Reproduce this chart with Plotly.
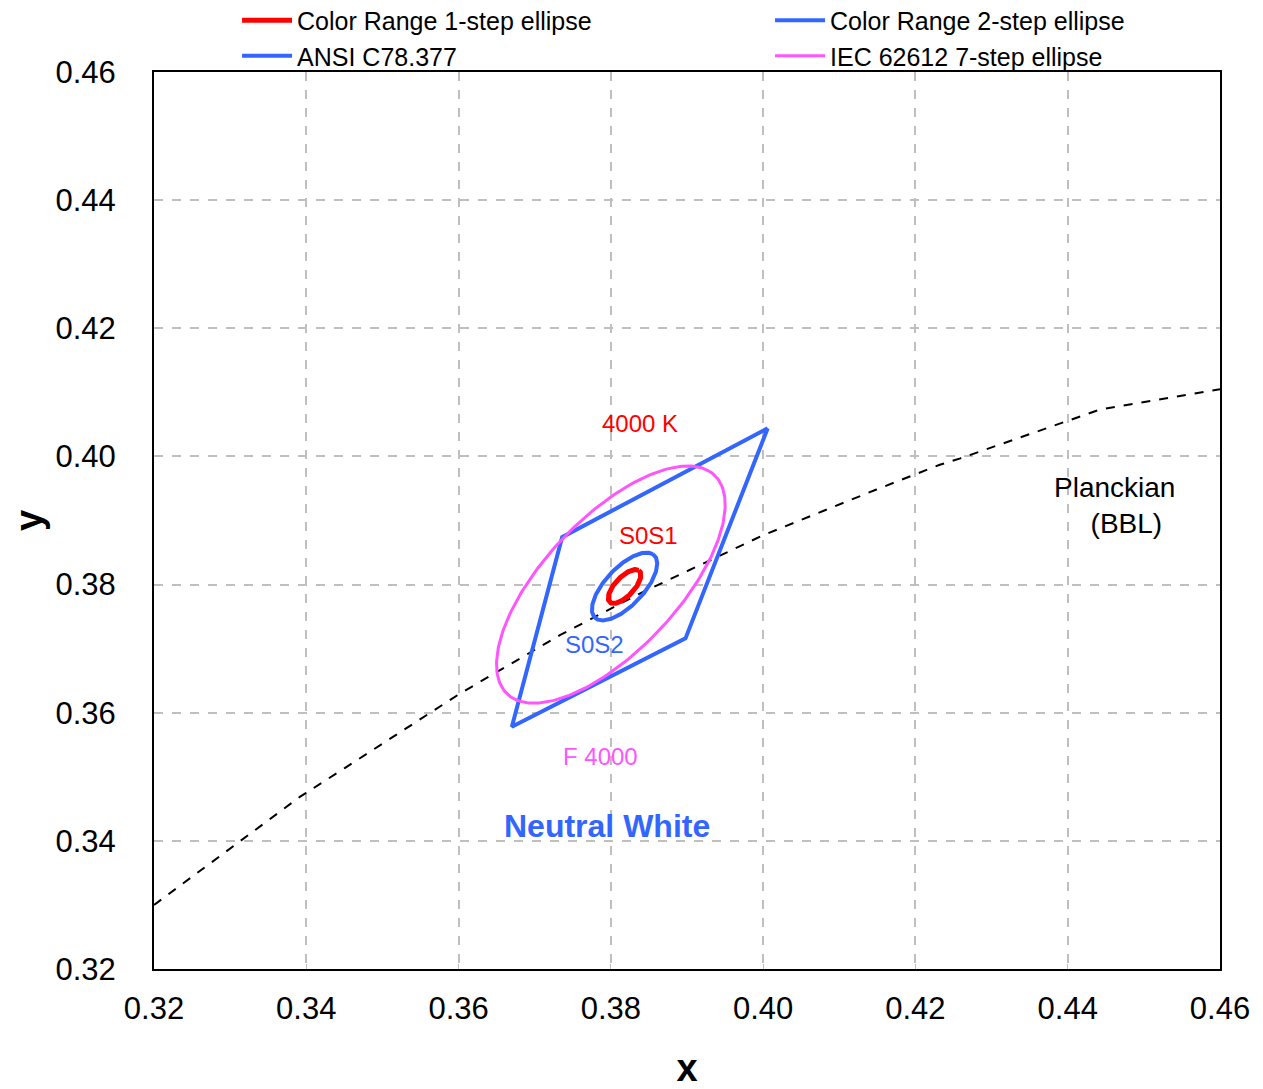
import numpy as np
import plotly.graph_objects as go

# ---------------- data ----------------
# Planckian locus (BBL) points
bbl_x = [0.3200, 0.3392, 0.3451, 0.3602, 0.3733, 0.3800, 0.3838, 0.4000, 0.4148, 0.4232, 0.4259, 0.4442, 0.4600]
bbl_y = [0.3300, 0.3469, 0.3514, 0.3630, 0.3721, 0.3763, 0.3786, 0.3877, 0.3948, 0.3987, 0.3997, 0.4073, 0.4105]

# ANSI C78.377 4000 K quadrangle
ansi_x = [0.4006, 0.3898, 0.3670, 0.3736, 0.4006]
ansi_y = [0.4044, 0.3716, 0.3578, 0.3874, 0.4044]

# ellipse parameters: centre, semi-axes per step, angle (deg), steps
s0_center = (0.3818, 0.3797)
f4000_center = (0.3800, 0.3800)
ellipse_a = 0.00313
ellipse_b = 0.00134
ellipse_theta = 53.7
steps_1 = 1
steps_2 = 2
steps_7 = 7

legend_names = ["Color Range 1-step ellipse", "Color Range 2-step ellipse",
                "ANSI C78.377", "IEC 62612 7-step ellipse"]

x_ticks = [0.32, 0.34, 0.36, 0.38, 0.40, 0.42, 0.44, 0.46]
y_ticks = [0.32, 0.34, 0.36, 0.38, 0.40, 0.42, 0.44, 0.46]

RED = "#FF0000"
BLUE = "#3366FF"
MAGENTA = "#FF55FF"


def ellipse(center, a, b, theta_deg, n=240):
    t = np.linspace(0, 2 * np.pi, n)
    th = np.deg2rad(theta_deg)
    ex = a * np.cos(t)
    ey = b * np.sin(t)
    x = center[0] + ex * np.cos(th) - ey * np.sin(th)
    y = center[1] + ex * np.sin(th) + ey * np.cos(th)
    return x, y


e1x, e1y = ellipse(s0_center, ellipse_a * steps_1, ellipse_b * steps_1, ellipse_theta)
e2x, e2y = ellipse(s0_center, ellipse_a * steps_2, ellipse_b * steps_2, ellipse_theta)
e7x, e7y = ellipse(f4000_center, ellipse_a * steps_7, ellipse_b * steps_7, ellipse_theta)

fig = go.Figure()

fig.add_trace(go.Scatter(x=bbl_x, y=bbl_y, mode="lines", showlegend=False,
                         line=dict(color="black", width=2, dash="dash")))
fig.add_trace(go.Scatter(x=e1x, y=e1y, mode="lines", name=legend_names[0], legend="legend",
                         line=dict(color=RED, width=5)))
fig.add_trace(go.Scatter(x=e2x, y=e2y, mode="lines", name=legend_names[1], legend="legend2",
                         line=dict(color=BLUE, width=4)))
fig.add_trace(go.Scatter(x=ansi_x, y=ansi_y, mode="lines", name=legend_names[2], legend="legend",
                         line=dict(color=BLUE, width=4)))
fig.add_trace(go.Scatter(x=e7x, y=e7y, mode="lines", name=legend_names[3], legend="legend2",
                         line=dict(color=MAGENTA, width=3)))

font = "Liberation Sans, Arial, sans-serif"

annots = [
    dict(x=0.3838, y=0.4052, text="4000 K", color=RED, size=24),
    dict(x=0.3850, y=0.3876, text="S0S1", color=RED, size=24),
    dict(x=0.3779, y=0.3706, text="S0S2", color=BLUE, size=24),
    dict(x=0.3787, y=0.3531, text="F 4000", color=MAGENTA, size=24),
    dict(x=0.3795, y=0.3423, text="<b>Neutral White</b>", color=BLUE, size=32),
    dict(x=0.4462, y=0.3923, text="Planckian<br>&nbsp;&nbsp;&nbsp;(BBL)", color="black", size=28),
]
for a in annots:
    fig.add_annotation(x=a["x"], y=a["y"], text=a["text"], showarrow=False,
                       font=dict(color=a["color"], size=a["size"], family=font),
                       xanchor="center", yanchor="middle", align="center")

axis_common = dict(
    showgrid=True, gridcolor="#BFBFBF", gridwidth=2, griddash="dash",
    showline=True, linecolor="black", linewidth=2, mirror=True,
    ticks="inside", ticklen=5, tickcolor="#BFBFBF", tickwidth=1,
    zeroline=False, tickformat=".2f",
    tickfont=dict(size=31, color="black", family=font),
)

fig.update_xaxes(range=[0.32, 0.46], tickvals=x_ticks, ticklabelstandoff=11,
                 title=dict(text="<b>x</b>", font=dict(size=38, color="black", family=font), standoff=29),
                 **axis_common)
fig.update_yaxes(range=[0.32, 0.46], tickvals=y_ticks, ticklabelstandoff=30,
                 title=dict(text="<b>y</b>", font=dict(size=38, color="black", family=font), standoff=5),
                 **axis_common)

legend_common = dict(orientation="v", yanchor="top", xanchor="left", y=1.083,
                     itemwidth=50, bgcolor="rgba(0,0,0,0)",
                     font=dict(size=25, color="black", family=font))

# page body has an 8px margin, so the figure is shrunk by 8px and the margins shifted
fig.update_layout(
    width=1255, height=1081,
    margin=dict(l=146, r=43, t=64, b=120, autoexpand=False),
    plot_bgcolor="white", paper_bgcolor="white",
    font=dict(family=font, color="black"),
    legend=dict(x=0.0779, **legend_common),
    legend2=dict(x=0.5779, **legend_common),
)

fig.write_html("out.html")
